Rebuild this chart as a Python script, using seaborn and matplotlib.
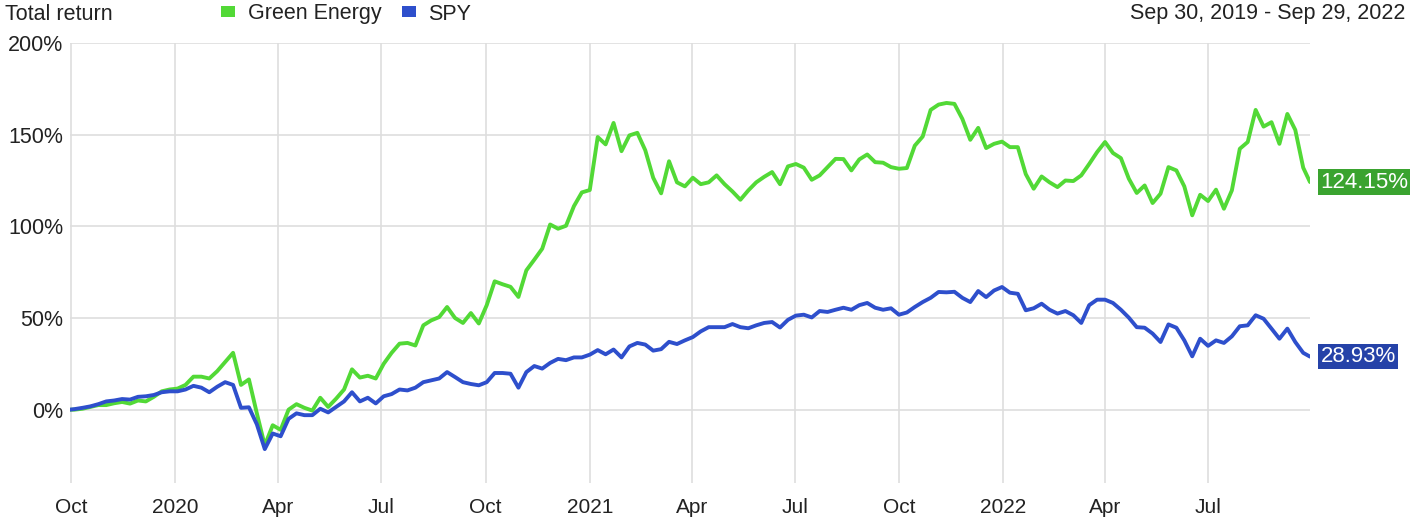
import matplotlib
matplotlib.use("Agg")
import matplotlib.pyplot as plt
import matplotlib.dates as mdates
import matplotlib.transforms as mtransforms
from matplotlib.patches import Patch
import numpy as np
import pandas as pd
import seaborn as sns

# weekly closes: start day, then every Friday, then the last day
dates = ([pd.Timestamp("2019-09-30")]
         + list(pd.date_range("2019-10-04", "2022-09-23", freq="7D"))
         + [pd.Timestamp("2022-09-29")])

green_energy = [
    0,
    0, 0.5, 1.5, 2.5, 2.5, 3.5, 4.2, 3.3, 5, 4.5,
    7, 10, 11, 11.5, 13.5, 18, 18, 17, 21, 26,
    31, 13.5, 16.5, -2, -19.5, -8.5, -11, 0, 3, 1,
    -0.5, 6.5, 1.5, 6, 11, 22, 17.5, 18.5, 17, 25,
    31, 36, 36.4, 35, 46, 48.7, 50.5, 56, 50, 47.3,
    52.7, 47, 57, 70, 68.4, 67, 61.5, 76, 81.8, 87.8,
    101, 98.7, 100.3, 111, 118.5, 119.8, 148.7, 144.7, 156.4, 141,
    149.6, 151, 141.5, 126.5, 118, 135.5, 124, 121.8, 126.5, 123,
    124, 127.8, 123, 119, 114.5, 119.6, 124, 127, 129.6, 123,
    132.7, 134, 132, 125.4, 127.8, 132.3, 136.8, 136.7, 130.5, 136.5,
    139.2, 135, 134.7, 132.3, 131.4, 131.8, 144, 149, 163.5, 166.4,
    167.3, 166.8, 158.6, 147.2, 153.7, 142.7, 145, 146.2, 143.2, 143.2,
    128.5, 120.5, 127.2, 124, 121.4, 125, 124.7, 127.8, 134, 140.5,
    146, 140, 137.2, 126, 118.2, 122.3, 112.7, 117.8, 132.3, 130.5,
    121.8, 106, 117.2, 113.8, 120, 109.6, 119.6, 142.3, 146, 163.5,
    154.4, 156.8, 145, 161.3, 152.6, 132,
    124.15,
]

spy = [
    0,
    0.3, 1, 1.8, 3, 4.5, 5, 5.8, 5.5, 7, 7.3,
    8, 9.5, 10, 10, 11, 13, 12, 9.5, 12.5, 15,
    13.5, 1, 1.3, -8, -21.5, -13, -14.5, -5, -2, -3,
    -3, 0.5, -1.5, 1.5, 4.5, 9.5, 4.5, 6.5, 3.4, 7.3,
    8.5, 11, 10.5, 12, 15, 16, 17, 20.5, 17.8, 15,
    14, 13.3, 15, 20, 20, 19.6, 12, 20.5, 23.8, 22.4,
    25.5, 27.7, 27, 28.5, 28.5, 30, 32.5, 30.2, 32.8, 28.5,
    34.5, 36.4, 35.5, 32.2, 33, 37, 35.8, 37.8, 39.6, 42.7,
    45, 45, 45, 46.7, 45, 44.4, 46, 47.3, 47.8, 44.8,
    49, 51.3, 51.8, 50.3, 53.8, 53.3, 54.5, 55.6, 54.5, 57,
    58.2, 55.6, 54.5, 55.3, 51.8, 53, 56, 58.7, 61, 64.2,
    64, 64.3, 61, 58.7, 64.7, 61.4, 65, 66.9, 63.8, 63.2,
    54.2, 55.3, 57.8, 54.5, 52.4, 53.8, 51.5, 47.3, 57, 60,
    60, 58.2, 54.5, 50.2, 45, 44.7, 41.5, 36.9, 46.5, 44.7,
    37.8, 29.1, 38.7, 34.8, 37.8, 36.4, 40, 45.5, 46, 51.5,
    49.6, 44.2, 38.7, 44.2, 36.9, 31,
    28.93,
]

series_names = ["Green Energy", "SPY"]
line_colors = ["#52d936", "#2e4fcc"]
label_colors = ["#3aa32f", "#2542a8"]

tick_dates = pd.date_range("2019-10-01", "2022-07-01", freq="3MS")
tick_labels = ["Oct", "2020", "Apr", "Jul", "Oct", "2021", "Apr", "Jul",
               "Oct", "2022", "Apr", "Jul"]
y_ticks = [0, 50, 100, 150, 200]

df = pd.DataFrame({
    "date": dates * 2,
    "value": green_energy + spy,
    "series": [series_names[0]] * len(dates) + [series_names[1]] * len(dates),
})

sns.set_theme(style="white")
plt.rcParams["font.family"] = ["Liberation Sans", "DejaVu Sans"]

fig = plt.figure(figsize=(14.1, 5.18), dpi=100)
ax = fig.add_axes([70 / 1410, 35 / 518, 1240 / 1410, 440 / 518])

sns.lineplot(data=df, x="date", y="value", hue="series",
             palette=dict(zip(series_names, line_colors)),
             linewidth=2.8, legend=False, ax=ax)

ax.set_xlim(pd.Timestamp("2019-09-30"), pd.Timestamp("2022-09-29"))
ax.set_ylim(-40, 200)
ax.set_xticks(tick_dates)
ax.set_xticklabels(tick_labels)
ax.set_yticks(y_ticks)
ax.set_yticklabels([f"{v}%" for v in y_ticks])
ax.tick_params(axis="x", length=0, pad=11, labelsize=15, labelcolor="#222222")
ax.tick_params(axis="y", length=0, pad=5, labelsize=15.5, labelcolor="#222222")
ax.grid(True, color="#dedede", linewidth=1.2)
ax.set_axisbelow(True)
for s in ax.spines.values():
    s.set_visible(False)
ax.set_xlabel("")
ax.set_ylabel("")

# end-of-line value boxes
trans = mtransforms.blended_transform_factory(ax.transAxes, ax.transData)
for vals, c in zip([green_energy, spy], label_colors):
    ax.text(1.0085, vals[-1], f"{vals[-1]:.2f}%", transform=trans,
            ha="left", va="center", color="white", fontsize=16,
            bbox=dict(boxstyle="square,pad=0.1", fc=c, ec="none"))

# header
fig.text(5 / 1410, 1 - 14 / 518, "Total return", ha="left", va="center",
         fontsize=15.5, color="#222222")
fig.text(1405 / 1410, 1 - 14 / 518, "Sep 30, 2019 - Sep 29, 2022",
         ha="right", va="center", fontsize=15.5, color="#222222")
handles = [Patch(facecolor=c, edgecolor="none", label=n)
           for n, c in zip(series_names, line_colors)]
fig.legend(handles=handles, loc="center left", ncol=2, frameon=False,
           bbox_to_anchor=(212 / 1410, 1 - 14 / 518), fontsize=15.5,
           handlelength=0.65, handleheight=0.4, handletextpad=0.6,
           columnspacing=0.95, labelcolor="#222222", borderaxespad=0)

plt.savefig("out.png", dpi=100)
